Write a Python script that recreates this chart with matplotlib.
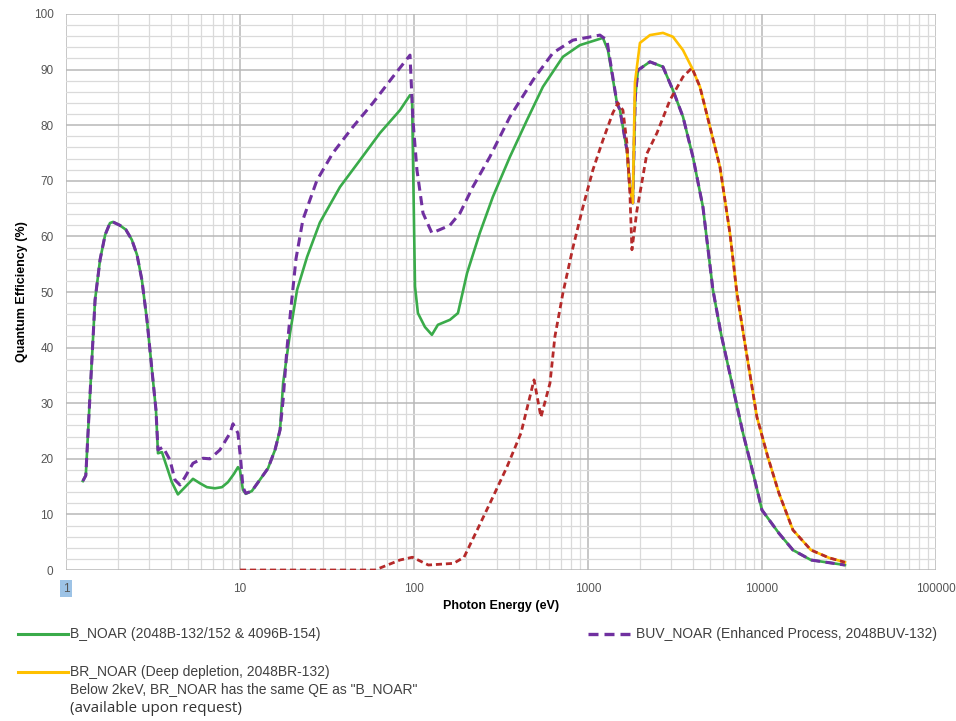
import matplotlib
matplotlib.use("Agg")
import matplotlib.pyplot as plt
from matplotlib.lines import Line2D
from matplotlib.ticker import FixedLocator, NullFormatter

plt.rcParams['font.family'] = ['Liberation Sans', 'DejaVu Sans']

# B_NOAR (green, solid)
b_e = [1.25, 1.30, 1.37, 1.47, 1.57, 1.68, 1.79, 1.86, 2.04, 2.21, 2.39, 2.56, 2.73, 2.92,
       3.12, 3.29, 3.38, 3.56, 3.85, 4.06, 4.40, 4.83, 5.37, 5.89, 6.46, 7.18, 7.88, 8.53,
       9.24, 9.74, 10.0, 10.4, 10.8, 11.7, 13.0, 14.5, 15.9, 17.0, 17.7, 19.4, 21.3, 24.3,
       28.8, 37.6, 48.9, 63.8, 83.1, 94.9, 97.5, 101.4, 105.4, 115.7, 126.8, 137.3, 161,
       179, 202, 239, 284, 356, 446, 551, 718, 899, 1219, 1303, 1468, 1528, 1675, 1742,
       1810, 1870, 1938, 2271, 2699, 3080, 3518, 4012, 4580, 5227, 5808, 6724, 7785,
       8997, 10000, 12530, 15070, 19130, 30000]
b_qe = [16.0, 17.0, 30.6, 48.6, 55.8, 60.3, 62.4, 62.6, 62.0, 61.2, 59.4, 56.7, 52.2, 45.0,
        36.0, 28.8, 21.0, 21.2, 18.0, 15.8, 13.6, 14.9, 16.4, 15.6, 14.9, 14.7, 14.9, 15.8,
        17.3, 18.5, 18.0, 14.4, 13.7, 14.2, 16.2, 18.3, 21.6, 25.2, 33.6, 42.6, 50.4, 56.3,
        62.5, 68.9, 73.7, 78.6, 82.7, 85.4, 85.0, 51.0, 46.2, 43.7, 42.3, 44.1, 45.0,
        46.2, 53.4, 60.6, 67.1, 74.3, 80.9, 86.9, 92.3, 94.4, 95.7, 93.5, 84.0, 82.7, 75.5, 68.9,
        66.0, 85.0, 89.9, 91.4, 90.5, 86.3, 81.5, 74.3, 65.3, 50.4, 42.6, 33.6, 24.6,
        16.8, 10.8, 6.6, 3.6, 1.8, 0.9]

# BUV_NOAR (purple, dashed)
buv_e = [1.25, 1.30, 1.37, 1.47, 1.57, 1.68, 1.79, 1.86, 2.04, 2.21, 2.39, 2.56, 2.73, 2.92,
         3.12, 3.29, 3.38, 3.61, 3.96, 4.23, 4.52, 4.83, 5.37, 6.13, 6.72, 7.67, 8.76, 9.12,
         9.74, 10.1, 10.4, 10.8, 11.7, 13.0, 14.5, 15.9, 17.0, 17.7, 18.6, 19.4, 21.0, 23.0,
         27.7, 34.2, 44.6, 58.1, 75.7, 94.9, 98.7, 104, 112.7, 126.8, 161, 184, 218, 273,
         356, 483, 629, 820, 1172, 1285, 1468, 1528, 1675, 1742, 1810, 1870, 1938, 2271,
         2699, 3080, 3518, 4012, 4580, 5227, 5808, 6724, 7785, 8997, 10000, 12530, 15070,
         19130, 30000]
buv_qe = [16.0, 17.0, 30.6, 48.6, 55.8, 60.3, 62.4, 62.6, 62.0, 61.2, 59.4, 56.7, 52.2, 45.0,
          36.0, 28.8, 21.6, 22.1, 19.8, 16.2, 15.3, 16.7, 19.2, 20.1, 20.0, 21.6, 24.6, 26.3,
          24.6, 19.8, 14.9, 13.8, 14.2, 16.2, 18.3, 21.6, 25.2, 30.6, 39.6, 45.5, 56.0, 63.0,
          70.1, 75.0, 79.7, 84.0, 88.7, 92.6, 80.9, 72.0, 64.2, 60.6, 62.0, 64.2, 68.9, 74.3,
          81.5, 88.1, 93.0, 95.3, 96.2, 95.3, 84.0, 82.7, 75.5, 68.9, 66.0, 85.0, 89.9, 91.4,
          90.5, 86.3, 81.5, 74.3, 65.3, 50.4, 42.6, 33.6, 24.6, 16.8, 10.8, 6.6, 3.6,
          1.8, 0.9]

# BR_NOAR (yellow, solid)
br_e = [1675, 1742, 1810, 1862, 1990, 2271, 2699, 3080, 3518, 3962, 4402, 5027, 5737,
        6546, 7182, 8093, 9361, 10820, 12530, 15070, 19130, 24270, 30000]
br_qe = [75.5, 68.9, 66.0, 87.6, 94.8, 96.2, 96.6, 95.9, 93.5, 90.3, 86.9, 79.7, 72.5,
         60.6, 49.8, 39.6, 27.5, 20.3, 13.8, 7.2, 3.6, 2.2, 1.4]

# unlabelled dark red dashed curve
dd_e = [10, 59.7, 83.1, 98, 121, 169, 194, 235, 284, 342, 412, 490, 537, 605, 646, 718,
        820, 936, 1069, 1219, 1390, 1487, 1589, 1675, 1742, 1790, 1913, 2182, 2493, 2960,
        3518, 3962, 4402, 5027, 5737, 6546, 7182, 8093, 9361, 10820, 12530, 15070, 19130,
        24270, 30000]
dd_qe = [0.0, 0.0, 1.8, 2.3, 0.9, 1.2, 2.3, 7.7, 13.1, 18.5, 24.6, 34.2, 27.5, 33.6, 42.0, 49.8,
         58.0, 65.3, 72.0, 77.3, 82.2, 84.0, 82.7, 76.8, 67.8, 57.6, 64.7, 74.9, 78.6, 84.5,
         88.7, 90.3, 86.9, 79.7, 72.5, 60.6, 49.8, 39.6, 27.5, 20.3, 13.8, 7.2, 3.6,
         2.2, 1.4]

x_ticks = [1, 10, 100, 1000, 10000, 100000]
x_labels = ["1", "10", "100", "1000", "10000", "100000"]
y_ticks = list(range(0, 101, 10))

GREEN = "#3aab4a"
PURPLE = "#7030a0"
YELLOW = "#ffc000"
RED = "#b52a2a"

fig = plt.figure(figsize=(9.56, 7.21), dpi=100)
ax = fig.add_axes([0.069, 0.2094, 0.910, 0.7712])

ax.plot(b_e, b_qe, color=GREEN, lw=1.9, zorder=3)
ax.plot(buv_e, buv_qe, color=PURPLE, lw=2.2, dashes=(3, 1.8), zorder=4)
ax.plot(br_e, br_qe, color=YELLOW, lw=1.9, zorder=5)
ax.plot(dd_e, dd_qe, color=RED, lw=2.0, dashes=(2.2, 1.4), zorder=6)

ax.set_xscale("log")
ax.set_xlim(1, 100000)
ax.set_ylim(0, 100)
ax.xaxis.set_major_locator(FixedLocator(x_ticks))
ax.set_xticklabels(x_labels)
ax.xaxis.set_minor_locator(FixedLocator([m * 10 ** d for d in range(5) for m in range(2, 10)]))
ax.xaxis.set_minor_formatter(NullFormatter())
ax.set_yticks(y_ticks)
ax.yaxis.set_minor_locator(FixedLocator([v for v in range(0, 101, 2) if v % 10]))

ax.grid(which="major", color="#b8b8b8", lw=1.1)
ax.grid(which="minor", color="#dadada", lw=0.9)
ax.set_axisbelow(True)
for s in ax.spines.values():
    s.set_visible(False)
ax.tick_params(which="both", length=0, labelsize=8.5, labelcolor="#555555")
ax.tick_params(axis="x", pad=9)
ax.tick_params(axis="y", pad=9)
lbl1 = ax.get_xticklabels()[0]
lbl1.set_bbox(dict(facecolor="#9dc3e6", edgecolor="none", pad=2))

ax.set_xlabel("Photon Energy (eV)", fontsize=9, fontweight="bold", labelpad=4)
ax.set_ylabel("Quantum Efficiency (%)", fontsize=9, fontweight="bold", labelpad=4)

# legend drawn in figure pixels
W, H = 956, 721
def fx(p):
    return p / W
def fy(p):
    return 1 - p / H

fig.add_artist(Line2D([fx(18), fx(68)], [fy(634), fy(634)], color=GREEN, lw=2.2))
fig.text(fx(70), fy(634), "B_NOAR (2048B-132/152 & 4096B-154)", fontsize=10,
         va="center", color="#404040")
fig.add_artist(Line2D([fx(588), fx(633)], [fy(634), fy(634)], color=PURPLE, lw=2.4,
                      dashes=(3, 1.8)))
fig.text(fx(636), fy(634), "BUV_NOAR (Enhanced Process, 2048BUV-132)", fontsize=10,
         va="center", color="#404040")
fig.add_artist(Line2D([fx(18), fx(68)], [fy(672), fy(672)], color=YELLOW, lw=2.2))
fig.text(fx(70), fy(672), "BR_NOAR (Deep depletion, 2048BR-132)", fontsize=10,
         va="center", color="#404040")
fig.text(fx(70), fy(690), "Below 2keV, BR_NOAR has the same QE as \"B_NOAR\"", fontsize=10,
         va="center", color="#404040")
fig.text(fx(70), fy(708), "(available upon request)", fontsize=11,
         va="center", color="#333333", family=["Open Sans", "DejaVu Sans"])

fig.savefig("out.png", dpi=100)
